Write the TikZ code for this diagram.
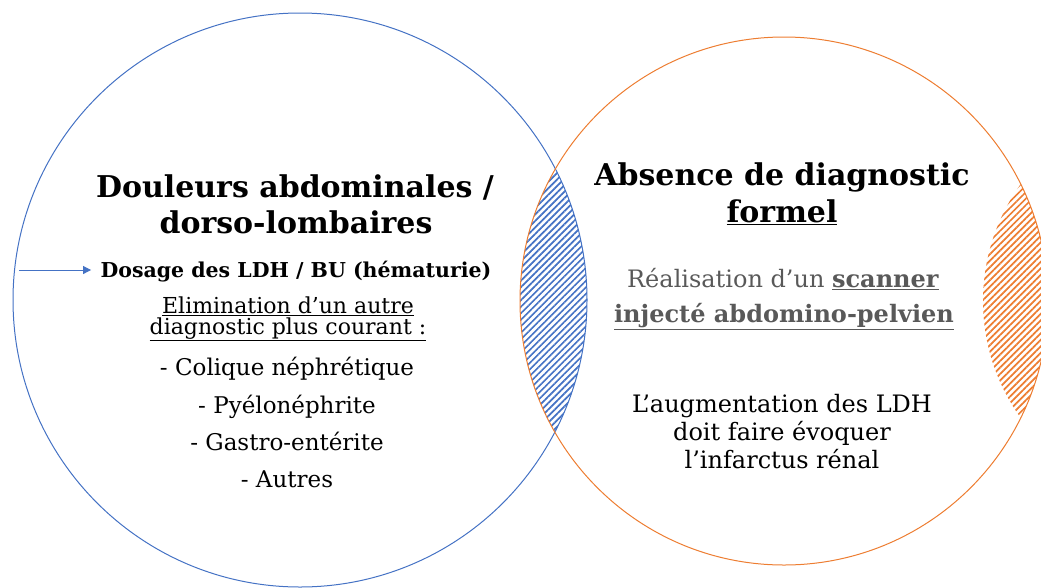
\documentclass[tikz,border=0pt]{standalone}
\usepackage{fontspec}
\setmainfont{DejaVu Serif}
\usepackage{xcolor}
\usepackage{tikz}
\usetikzlibrary{arrows.meta,patterns.meta}

\definecolor{douleurblue}{HTML}{4472C4}
\definecolor{scanorange}{HTML}{ED7D31}
\definecolor{scangray}{HTML}{595959}

\tikzset{
    titletext/.style={anchor=base, font=\bfseries\fontsize{30}{35}\selectfont},
    subbold/.style={anchor=base, font=\bfseries\fontsize{20.5}{24}\selectfont},
    bodytext/.style={anchor=base, font=\fontsize{22}{25}\selectfont},
    listtext/.style={anchor=base, font=\fontsize{23}{26}\selectfont},
    righttext/.style={anchor=base, font=\fontsize{24}{27}\selectfont},
    hatchblue/.style={pattern={Lines[angle=45,distance=4.6pt,line width=1.7pt]}, pattern color=douleurblue},
    hatchorange/.style={pattern={Lines[angle=45,distance=4.6pt,line width=1.7pt]}, pattern color=scanorange}
}

\begin{document}
\begin{tikzpicture}[x=1pt,y=-1pt]
                \useasboundingbox (0,0) rectangle (1041,587);
                % hatched overlaps
                \begin{scope}
                    \clip (300,300) circle [radius=287];
                    \fill[hatchblue] (784,301) circle [radius=264];
                \end{scope}
                \begin{scope}
                    \clip (784,301) circle [radius=264];
                    \fill[hatchorange] (1183,301) circle [radius=200];
                \end{scope}
                % circles
                \draw[douleurblue, line width=1pt] (300,300) circle [radius=287];
                \draw[scanorange, line width=1pt] (784,301) circle [radius=264];

                % left circle
                \node[titletext] (douleur1) at (295,197) {Douleurs abdominales /};
                \node[titletext] (douleur2) at (296,233) {dorso-lombaires};
                \node[subbold] (dosage) at (296,277) {Dosage des LDH / BU (hématurie)};
                \node[bodytext] (elim1) at (288,313) {\underline{Elimination d’un autre}};
                \node[bodytext] (elim2) at (288,334) {\underline{diagnostic plus courant :}};
                \node[listtext] (colique) at (287,375) {- Colique néphrétique};
                \node[listtext] (pyelo) at (287,413) {- Pyélonéphrite};
                \node[listtext] (gastro) at (287,450) {- Gastro-entérite};
                \node[listtext] (autres) at (287,487) {- Autres};
                \coordinate (arrowstart) at (19,270);
                \draw[douleurblue, line width=1pt, -{Triangle[width=8pt,length=8pt]}, shorten >=6pt] (arrowstart) -- (dosage.west |- arrowstart);

                % right circle
                \node[titletext] (absence1) at (782,185) {Absence de diagnostic};
                \node[titletext] (absence2) at (782,222) {\underline{formel}};
                \node[righttext, text=scangray] (scan1) at (783,287) {Réalisation d’un \underline{\textbf{scanner}}};
                \node[righttext, text=scangray, font=\bfseries\fontsize{24}{27}\selectfont] (scan2) at (784,322) {\underline{injecté abdomino-pelvien}};
                \node[righttext] (ldh1) at (782,412) {L’augmentation des LDH};
                \node[righttext] (ldh2) at (782,440) {doit faire évoquer};
                \node[righttext] (ldh3) at (782,468) {l’infarctus rénal};
            \end{tikzpicture}
\end{document}
